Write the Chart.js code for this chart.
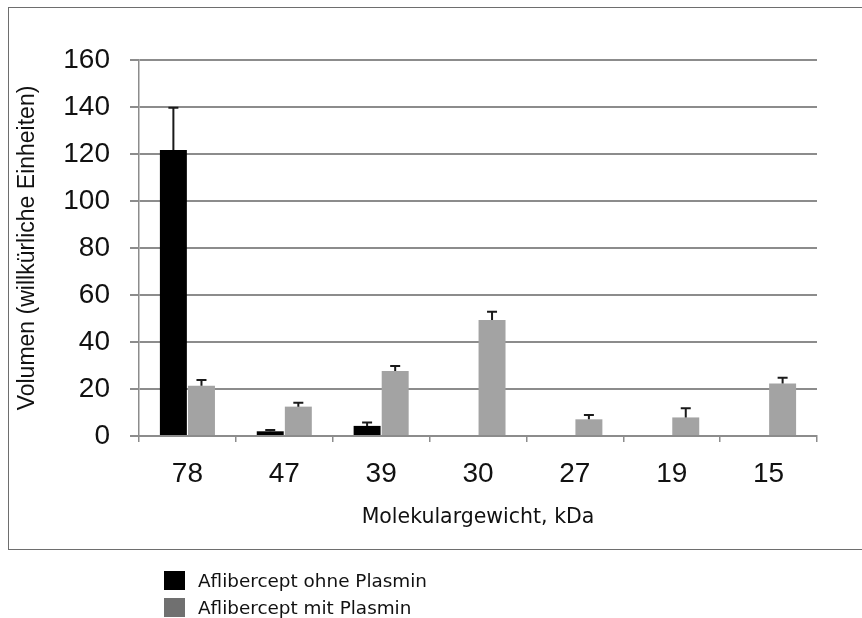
<!DOCTYPE html>
<html>
<head>
<meta charset="utf-8">
<script src="https://cdn.jsdelivr.net/npm/chart.js@4.4.0/dist/chart.umd.min.js"></script>
<style>
  html, body { margin: 0; padding: 0; background: #fff; }
  body { width: 862px; height: 618px; position: relative; overflow: hidden; }
  #wrap { position: absolute; left: 0; top: 0; width: 862px; height: 618px; }
  #frame { position: absolute; left: 8px; top: 7px; width: 900px; height: 541px;
           border: 1.5px solid #6e6e6e; border-right: none; pointer-events: none; }
  #legend { position: absolute; left: 164px; top: 567px; font-family: "DejaVu Sans", sans-serif;
            font-size: 18.4px; color: #111; }
  .row { height: 27px; display: flex; align-items: center; white-space: nowrap; }
  .sw { display: inline-block; width: 21px; height: 19px; margin-right: 13px; }
</style>
</head>
<body>
<div id="wrap"><canvas id="c" width="862" height="618"></canvas></div>
<div id="frame"></div>
<div id="legend"></div>
<script>
const categories = ["78", "47", "39", "30", "27", "19", "15"];
const seriesNames = ["Aflibercept ohne Plasmin", "Aflibercept mit Plasmin"];
const ohnePlasmin = [121.7, 2.0, 4.3, 0, 0, 0, 0];
const ohnePlasminErr = [18.0, 0.6, 1.4, 0, 0, 0, 0];
const mitPlasmin = [21.4, 12.5, 27.7, 49.4, 7.1, 7.9, 22.3];
const mitPlasminErr = [2.4, 1.7, 2.1, 3.5, 1.8, 3.9, 2.5];
const yTicks = [0, 20, 40, 60, 80, 100, 120, 140, 160];
const xTitle = "Molekulargewicht, kDa";
const yTitle = "Volumen (willkürliche Einheiten)";

const barColors = ["#000000", "#a3a3a3"];
const legendColors = ["#000000", "#707070"];

const errorBars = {
  id: "errorBars",
  afterDatasetsDraw(chart) {
    const ctx = chart.ctx;
    const yScale = chart.scales.y;
    chart.data.datasets.forEach((ds, di) => {
      const meta = chart.getDatasetMeta(di);
      meta.data.forEach((bar, i) => {
        const v = ds.data[i];
        const e = ds.errors[i];
        if (!v || !e) return;
        const yTop = yScale.getPixelForValue(v + e);
        const yBase = yScale.getPixelForValue(v);
        ctx.save();
        ctx.strokeStyle = "#1a1a1a";
        ctx.lineWidth = 2;
        ctx.beginPath();
        ctx.moveTo(bar.x, yBase);
        ctx.lineTo(bar.x, yTop);
        ctx.moveTo(bar.x - 5, yTop);
        ctx.lineTo(bar.x + 5, yTop);
        ctx.stroke();
        ctx.restore();
      });
    });
  }
};

new Chart(document.getElementById("c"), {
  type: "bar",
  data: {
    labels: categories,
    datasets: [
      { label: seriesNames[0], data: ohnePlasmin, errors: ohnePlasminErr, backgroundColor: barColors[0],
        categoryPercentage: 0.58, barPercentage: 0.96 },
      { label: seriesNames[1], data: mitPlasmin, errors: mitPlasminErr, backgroundColor: barColors[1],
        categoryPercentage: 0.58, barPercentage: 0.96 }
    ]
  },
  options: {
    responsive: false,
    animation: false,
    devicePixelRatio: 1,
    layout: { padding: { left: 0, top: 60, right: 45, bottom: 0 } },
    plugins: { legend: { display: false }, tooltip: { enabled: false } },
    scales: {
      x: {
        grid: { display: true, drawOnChartArea: false, offset: true, tickLength: 6, color: "#8c8c8c", lineWidth: 1.5 },
        border: { display: true, color: "#8c8c8c", width: 2 },
        ticks: { color: "#111", font: { family: "Liberation Sans", size: 28 }, padding: 15, maxRotation: 0 },
        title: { display: true, text: xTitle, color: "#111",
                 font: { family: "DejaVu Sans", size: 20.5 }, padding: { top: 0, bottom: 88 } },
        afterFit(scale) { scale.height = 182; }
      },
      y: {
        min: 0, max: 160,
        afterBuildTicks(scale) { scale.ticks = yTicks.map(v => ({ value: v })); },
        grid: { color: "#8c8c8c", lineWidth: 2, tickLength: 9 },
        border: { display: true, color: "#8c8c8c", width: 1.5 },
        ticks: { color: "#111", font: { family: "Liberation Sans", size: 28 }, padding: 20 },
        title: { display: true, text: yTitle, color: "#111",
                 font: { family: "Liberation Sans", size: 23 }, padding: { top: 14, bottom: 0 } },
        afterFit(scale) { scale.width = 139; }
      }
    }
  },
  plugins: [errorBars]
});

const leg = document.getElementById("legend");
seriesNames.forEach((n, i) => {
  const r = document.createElement("div");
  r.className = "row";
  const s = document.createElement("span");
  s.className = "sw";
  s.style.background = legendColors[i];
  const t = document.createElement("span");
  t.textContent = n;
  r.appendChild(s); r.appendChild(t);
  leg.appendChild(r);
});
</script>
</body>
</html>
